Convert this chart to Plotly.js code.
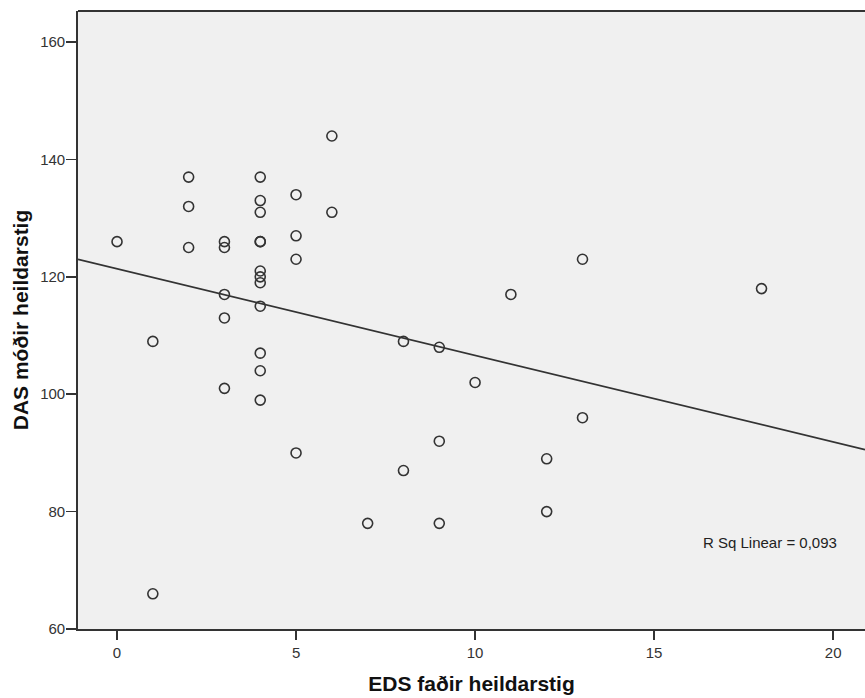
<!DOCTYPE html>
<html>
<head>
<meta charset="utf-8">
<script src="https://cdn.plot.ly/plotly-3.0.1.min.js"></script>
<style>html,body{margin:0;padding:0;background:#fff;}#chart{width:865px;height:698px;}</style>
</head>
<body>
<div id="chart"></div>
<script>
// EDS faðir heildarstig (x) and DAS móðir heildarstig (y)
const edsFather = [0, 1, 1, 2, 2, 2, 3, 3, 3, 3, 3,
  4, 4, 4, 4, 4, 4, 4, 4, 4, 4, 4, 4,
  5, 5, 5, 5, 6, 6, 7, 8, 8, 9, 9, 9, 10, 11, 12, 12, 13, 13, 18];
const dasMother = [126, 109, 66, 137, 132, 125, 126, 125, 117, 113, 101,
  137, 133, 131, 126, 126, 121, 120, 119, 115, 107, 104, 99,
  134, 127, 123, 90, 144, 131, 78, 109, 87, 108, 92, 78, 102, 117, 89, 80, 123, 96, 118];
const xTicks = [0, 5, 10, 15, 20];
const yTicks = [60, 80, 100, 120, 140, 160];
const xRange = [-1.09, 20.89];
const yRange = [60, 165.3];
const rSqLabel = 'R Sq Linear = 0,093';

// least-squares fit line
const n = edsFather.length;
const mx = edsFather.reduce((a, b) => a + b, 0) / n;
const my = dasMother.reduce((a, b) => a + b, 0) / n;
let sxy = 0, sxx = 0;
for (let i = 0; i < n; i++) { sxy += (edsFather[i] - mx) * (dasMother[i] - my); sxx += (edsFather[i] - mx) ** 2; }
const slope = sxy / sxx, intercept = my - slope * mx;
const fitX = [xRange[0], xRange[1]];
const fitY = fitX.map(v => intercept + slope * v);

const font = 'Arial, "Liberation Sans", sans-serif';
const dark = '#333333';

const traces = [
  { x: fitX, y: fitY, type: 'scatter', mode: 'lines', line: { color: dark, width: 1.7 }, hoverinfo: 'skip', showlegend: false },
  { x: edsFather, y: dasMother, type: 'scatter', mode: 'markers',
    marker: { symbol: 'circle-open', size: 10, color: dark, line: { color: dark, width: 1.6 } }, showlegend: false }
];

const layout = {
  width: 865, height: 698,
  margin: { l: 78, r: 0, t: 11, b: 69 },
  paper_bgcolor: '#ffffff', plot_bgcolor: '#f0f0f0',
  showlegend: false,
  font: { family: font, color: '#222' },
  xaxis: {
    range: xRange, tickvals: xTicks, ticktext: xTicks.map(String),
    showgrid: false, zeroline: false, showline: true, linecolor: dark, linewidth: 1.8,
    ticks: 'outside', ticklen: 9, tickwidth: 1.6, tickcolor: dark,
    tickfont: { family: font, size: 15, color: '#333' },
    title: { text: 'EDS faðir heildarstig', font: { family: font, size: 21, color: '#111', weight: 'bold' }, standoff: 16 },
    automargin: false
  },
  yaxis: {
    range: yRange, tickvals: yTicks, ticktext: yTicks.map(String),
    showgrid: false, zeroline: false, showline: true, linecolor: dark, linewidth: 1.8,
    ticks: 'outside', ticklen: 10, tickwidth: 1.6, tickcolor: dark,
    tickfont: { family: font, size: 15, color: '#333' },
    ticklabelstandoff: -2,
    title: { text: 'DAS móðir heildarstig', font: { family: font, size: 21, color: '#111', weight: 'bold' }, standoff: 6 },
    automargin: false
  },
  shapes: [
    { type: 'line', xref: 'paper', yref: 'paper', x0: 0, x1: 1, y0: 1, y1: 1, line: { color: dark, width: 1.8 } }
  ],
  annotations: [
    { text: rSqLabel, xref: 'paper', yref: 'paper', x: (770 - 78) / 787, y: (629 - 542) / 618,
      xanchor: 'center', yanchor: 'middle', showarrow: false, font: { family: font, size: 15, color: '#222' } }
  ]
};

Plotly.newPlot('chart', traces, layout, { displayModeBar: false, staticPlot: true });
</script>
</body>
</html>
